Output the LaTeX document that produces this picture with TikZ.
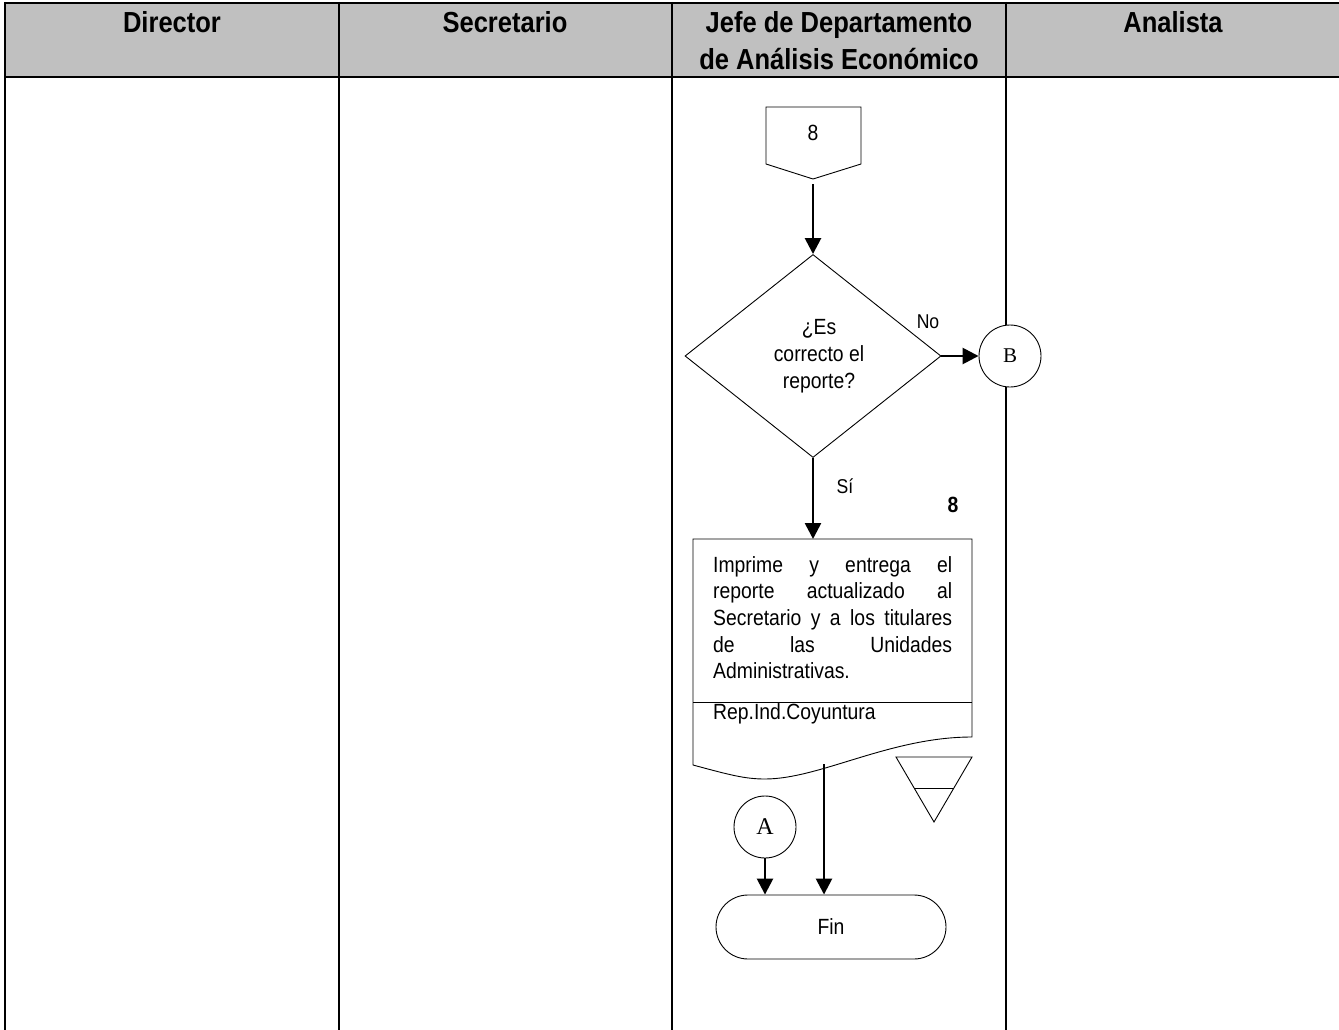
\documentclass[tikz,border=0pt]{standalone}
\usepackage{fontspec}
\setmainfont[FakeStretch=0.88]{Liberation Sans}
\newfontfamily\serifletter{Liberation Serif}
\usetikzlibrary{arrows.meta,shapes.geometric,calc}
\definecolor{hdrgrey}{HTML}{C0C0C0}
\tikzset{
  frame/.style={line width=2.2pt},
  shp/.style={draw, line width=0.9pt},
  arr/.style={line width=2.6pt, -{Triangle[width=16pt,length=16pt]}},
  lbl/.style={inner sep=0pt, font=\fontsize{22}{26}\selectfont},
  small/.style={inner sep=0pt, font=\fontsize{20}{22}\selectfont},
  hdr/.style={inner sep=0pt, font=\fontsize{29}{37}\selectfont\bfseries},
  conn/.style={draw, circle, line width=0.9pt, fill=white, minimum size=62pt, inner sep=0pt},
}
\begin{document}
\begin{tikzpicture}[x=1pt,y=-1pt]
\useasboundingbox (0,0) rectangle (1339,1030);
% header band
\fill[hdrgrey] (5,3) rectangle (1339,77);
\draw[frame] (4,3) -- (1339,3);
\draw[frame] (4,77) -- (1339,77);
\foreach \xx in {5,339,672,1006} {\draw[frame] (\xx,2) -- (\xx,1030);}
\node[hdr, anchor=base] (hDir) at (172,33) {Director};
\node[hdr, anchor=base] (hSec) at (505,33) {Secretario};
\node[hdr, anchor=base] (hJefeA) at (839,33) {Jefe de Departamento};
\node[hdr, anchor=base] (hJefeB) at (839,70) {de Análisis Económico};
\node[hdr, anchor=base] (hAna) at (1173,33) {Analista};

% off-page connector 8
\draw[shp] (766,107) -- (861,107) -- (861,164) -- (813,179) -- (766,164) -- cycle;
\node[lbl, anchor=base] (pg) at (813,141) {8};
\coordinate (pgtip) at (813,184);

% decision
\node[diamond, shp, minimum width=256pt, minimum height=203pt, inner sep=0pt] (dec) at (813,356) {};
\node[inner sep=0pt, align=center, font=\fontsize{22}{27}\selectfont] (decText) at (819,356) {¿Es\\correcto el\\reporte?};
\draw[arr] (pgtip) -- (dec.north);

% connector B
\node[conn, font=\serifletter\fontsize{21}{21}\selectfont] (B) at (1010,356) {B};
\draw[arr] (dec.east) -- (B.west);
\node[small] (no) at (928,322) {No};

% yes branch
\coordinate (docTop) at (813,539);
\draw[arr] (dec.south) -- (docTop);
\node[small] (si) at (845,486) {Sí};
\node[lbl, font=\fontsize{22}{26}\selectfont\bfseries] (ref) at (953,505) {8};

% document
\draw[shp] (693,539) -- (972,539) -- (972,737)
  .. controls (890,737) and (820,779) .. (765,779)
  .. controls (745,779) and (730,775) .. (693,765) -- cycle;
\draw[shp] (693,702) -- (972,702);
\node[anchor=north west, inner sep=0pt, align=left, font=\fontsize{22}{26.7}\selectfont] (doc) at (713,556)
  {\makebox[239pt][s]{Imprime y entrega el}\\
   \makebox[239pt][s]{reporte actualizado al}\\
   \makebox[239pt][s]{Secretario y a los titulares}\\
   \makebox[239pt][s]{de las Unidades}\\
   Administrativas.};
\node[lbl, anchor=base west] (rep) at (713,719) {Rep.Ind.Coyuntura};

% archive triangle
\draw[shp] (896,757) -- (972,757) -- (934,822) -- cycle;
\draw[shp] (914,788) -- (954,788);

% end
\node[draw, line width=0.9pt, rounded corners=32pt, minimum width=230pt, minimum height=64pt,
      font=\fontsize{22}{26}\selectfont] (fin) at (831,927) {Fin};
\node[conn, font=\serifletter\fontsize{24}{24}\selectfont] (A) at (765,827) {A};
\coordinate (docOut) at (824,764);
\draw[arr] (docOut) -- (docOut |- fin.north);
\draw[arr] (A.south) -- (A.south |- fin.north);
\end{tikzpicture}
\end{document}
